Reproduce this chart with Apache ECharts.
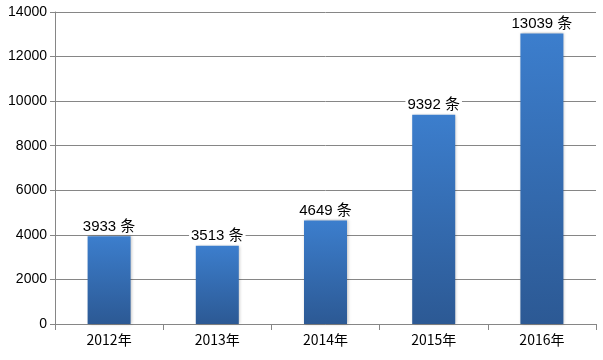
<!DOCTYPE html>
<html><head><meta charset="utf-8">
<script src="https://cdn.jsdelivr.net/npm/echarts@6/dist/echarts.min.js"></script>
<style>html,body{margin:0;padding:0;background:#fff}#c{width:603px;height:360px}</style>
</head><body><div id="c"></div>
<script>
var categories = ['2012年','2013年','2014年','2015年','2016年'];
var values = [3933, 3513, 4649, 9392, 13039];
var unit = ' 条';
var chart = echarts.init(document.getElementById('c'), null, {renderer:'canvas'});
chart.setOption({
  animation:false,
  grid:{left:55, right:7, top:12, bottom:36},
  xAxis:{type:'category', data:categories,
    axisLine:{lineStyle:{color:'#868686'}},
    axisTick:{show:true, length:6, lineStyle:{color:'#868686'}},
    axisLabel:{color:'#000', fontSize:14, fontFamily:'"Noto Sans CJK SC", Arial', margin:9}},
  yAxis:{type:'value', min:0, max:14000, interval:2000,
    axisLine:{show:true, lineStyle:{color:'#868686'}},
    axisTick:{show:true, length:5, lineStyle:{color:'#868686'}},
    splitLine:{lineStyle:{color:'#868686'}},
    axisLabel:{color:'#000', fontSize:14, fontFamily:'"Liberation Sans", Arial', margin:8,
      formatter:function(v){return String(v);}}},
  series:[{type:'bar', data:values, barWidth:43,
    itemStyle:{color:new echarts.graphic.LinearGradient(0,0,0,1,[{offset:0,color:'#3c7ecd'},{offset:1,color:'#2c5994'}]),
      shadowColor:'rgba(0,0,0,0.25)', shadowBlur:3, shadowOffsetX:1, shadowOffsetY:0},
    label:{show:true, position:'top', distance:2, color:'#000', fontSize:15,
      fontFamily:'"Liberation Sans", "Noto Sans CJK SC"', backgroundColor:'#fff', padding:[0,2],
      formatter:function(p){return p.value + unit;}}}]
});
</script></body></html>
